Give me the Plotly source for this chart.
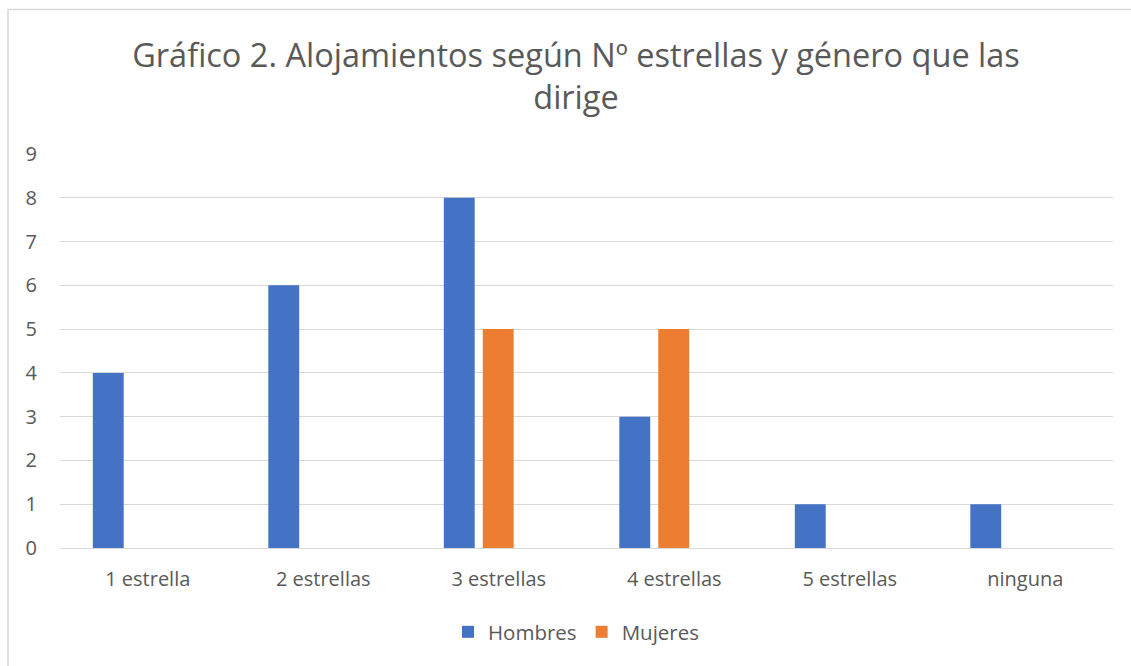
import plotly.graph_objects as go

categories = ["1 estrella", "2 estrellas", "3 estrellas", "4 estrellas", "5 estrellas", "ninguna"]
hombres = [4, 6, 8, 3, 1, 1]
mujeres = [0, 0, 5, 5, 0, 0]
y_ticks = list(range(0, 10))

title_text = "Gráfico 2. Alojamientos según Nº estrellas y género que las<br>dirige"

W, H = 1131, 666
L, R, T, B = 60, 1113, 154, 548
pw, ph = R - L, B - T

font_family = "Open Sans, Liberation Sans, sans-serif"
gray = "#595959"

fig = go.Figure()
fig.add_trace(go.Bar(
    name="Hombres", x=categories, y=hombres,
    marker=dict(color="#4472C4", line=dict(width=0)),
    width=0.176, offset=-0.313,
))
fig.add_trace(go.Bar(
    name="Mujeres", x=categories, y=mujeres,
    marker=dict(color="#ED7D31", line=dict(width=0)),
    width=0.176, offset=-0.091,
))

# outer chart border
fig.add_shape(type="rect", xref="paper", yref="paper",
              x0=(8 - L) / pw, x1=(W + 5 - L) / pw,
              y0=(B - (H + 5)) / ph, y1=(B - 9.5) / ph,
              line=dict(color="#D9D9D9", width=1.5), fillcolor="rgba(0,0,0,0)",
              layer="below")

fig.update_layout(
    width=W, height=H, autosize=False,
    margin=dict(l=L, r=W - R, t=T, b=H - B, pad=0, autoexpand=False),
    paper_bgcolor="white", plot_bgcolor="white",
    barmode="overlay",
    title=dict(text=title_text, x=(576 - L) / pw, xanchor="center", xref="paper",
               y=1 - 67 / H, yanchor="top",
               font=dict(family=font_family, size=32.5, color=gray)),
    font=dict(family=font_family, color=gray),
    showlegend=True,
    legend=dict(orientation="h", x=(576 - L) / pw, xanchor="center",
                y=(B - 632) / ph, yanchor="middle",
                font=dict(size=20.5, color=gray), itemwidth=30,
                traceorder="normal"),
    xaxis=dict(range=[-0.5, 5.5], showgrid=False, zeroline=False,
               showline=True, linecolor="#D9D9D9", linewidth=1,
               ticks="", tickfont=dict(size=20, color=gray), tickangle=0,
               ticklabelstandoff=13, automargin=False),
    yaxis=dict(range=[0, 9], tickvals=y_ticks, showgrid=True,
               gridcolor="#D9D9D9", gridwidth=1, zeroline=False,
               ticks="", tickfont=dict(size=20, color=gray),
               ticklabelstandoff=22, fixedrange=True, automargin=False),
)

fig.write_html("out.html", config={"displayModeBar": False},
               post_script="document.body.style.margin='0px';")
